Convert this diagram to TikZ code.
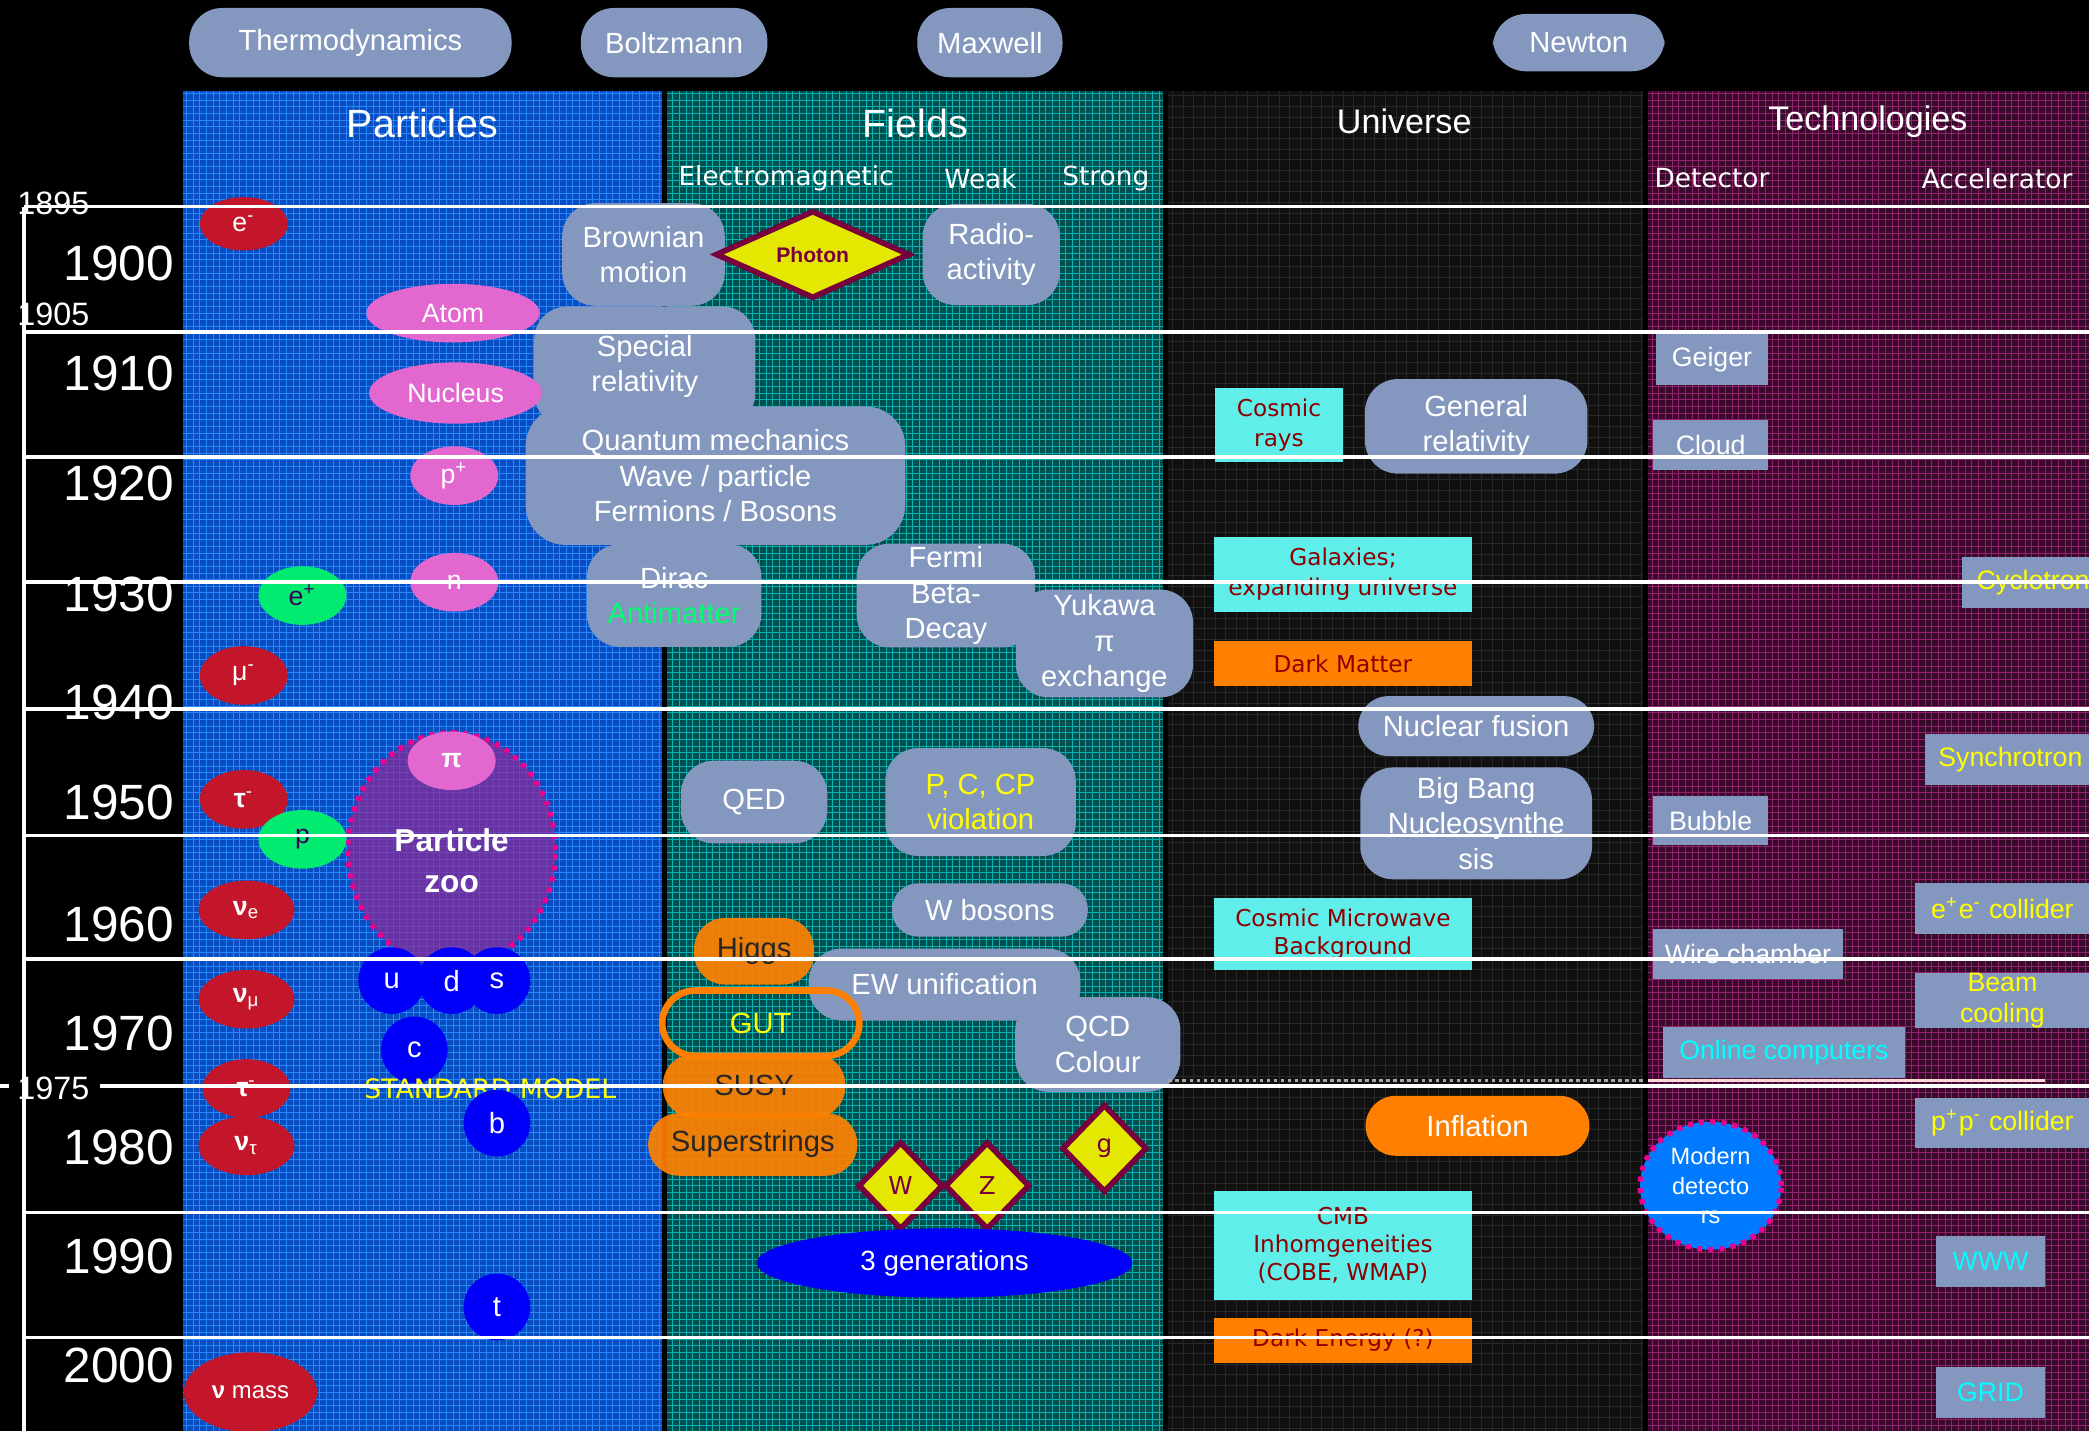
\documentclass[tikz,border=0pt]{standalone}
\usepackage{fontspec}
\setmainfont{Liberation Sans}
\newfontfamily\dejavu{DejaVu Sans}
\usepackage{tikz}
\usetikzlibrary{shapes.geometric}

\definecolor{pillblue}{RGB}{132,151,191}
\definecolor{partblue}{RGB}{8,78,192}
\definecolor{partgrid}{RGB}{40,135,255}
\definecolor{fieldteal}{RGB}{0,80,80}
\definecolor{fieldgrid}{RGB}{10,175,175}
\definecolor{unidark}{RGB}{16,16,16}
\definecolor{unigrid}{RGB}{40,40,40}
\definecolor{techplum}{RGB}{58,10,44}
\definecolor{techgrid}{RGB}{145,35,108}
\definecolor{partred}{RGB}{196,22,42}
\definecolor{partpink}{RGB}{226,104,208}
\definecolor{partgreen}{RGB}{0,235,112}
\definecolor{antitext}{RGB}{60,0,90}
\definecolor{quarkblue}{RGB}{0,0,250}
\definecolor{boxorange}{RGB}{255,128,0}
\definecolor{boxcyan}{RGB}{96,238,234}
\definecolor{darkred}{RGB}{140,0,0}
\definecolor{gaugemaroon}{RGB}{120,0,60}
\definecolor{gaugeyellow}{RGB}{228,232,0}
\definecolor{zoopurple}{RGB}{140,40,150}
\definecolor{detblue}{RGB}{0,122,255}
\definecolor{antigreen}{RGB}{0,255,110}
\definecolor{accyellow}{RGB}{255,255,0}
\definecolor{compcyan}{RGB}{0,255,255}

\begin{document}
\begin{tikzpicture}[x=0.013323cm, y=0.013323cm, yscale=-1,
  sz/.style 2 args={minimum width=#1*0.013323cm, minimum height=#2*0.013323cm},
  txt/.style={font=\fontsize{8.3}{10.1}\selectfont},
  headpill/.style={fill=pillblue, text=white, rounded corners=0.33cm, inner sep=0pt, txt},
  pill/.style={fill=pillblue, text=white, rounded corners=0.33cm, inner sep=0pt, align=center, txt},
  orpill/.style={fill=boxorange, fill opacity=0.92, text opacity=1, text=black!85, rounded corners=0.31cm, inner sep=0pt, txt},
  coltitle/.style={text=white, font=\fontsize{11.2}{13}\selectfont},
  subtitle/.style={text=white, font=\dejavu\fontsize{7.5}{9}\selectfont},
  unibox/.style={fill=boxcyan, text=darkred, inner sep=0pt, align=center, font=\dejavu\fontsize{6.6}{8.4}\selectfont},
  darkbox/.style={fill=boxorange, text=darkred, inner sep=0pt, font=\dejavu\fontsize{6.6}{8.4}\selectfont},
  techbox/.style={fill=pillblue, text=white, inner sep=0pt, align=center, font=\fontsize{7.6}{8.7}\selectfont},
  ptcl/.style={ellipse, inner sep=0pt, text=white, font=\fontsize{7.6}{9}\selectfont},
  quark/.style={circle, fill=quarkblue, text=white, inner sep=0pt, minimum size=50*0.013323cm, font=\fontsize{8.3}{10}\selectfont},
  gauge/.style={diamond, fill=gaugeyellow, draw=gaugemaroon, line width=1.6pt, inner sep=0pt, text=gaugemaroon, font=\dejavu\fontsize{7}{8}\selectfont},
  bigyear/.style={text=white, anchor=east, inner sep=0pt, font=\fontsize{14.1}{16}\selectfont},
  smallyear/.style={text=white, inner sep=0pt, font=\fontsize{9.2}{11}\selectfont},
  yearline/.style={white, line width=1pt},
]
\useasboundingbox (0,0) rectangle (1568,1074);
\fill[black] (0,0) rectangle (1568,1074);
\clip (0,0) rectangle (1568,1074);

% columns
\fill[partblue] (137,68) rectangle (497,1074);
\draw[partgrid, line width=0.22pt] (137,68) grid[step=5] (497,1074);
\fill[fieldteal] (501,68) rectangle (873,1074);
\draw[fieldgrid, line width=0.2pt] (501,68) grid[step=5] (873,1074);
\fill[unidark] (877,68) rectangle (1233,1074);
\draw[unigrid, line width=0.25pt] (877,68) grid[step=8] (1233,1074);
\fill[techplum] (1237,68) rectangle (1568,1074);
\draw[techgrid, line width=0.2pt] (1237,68) grid[step=5] (1568,1074);

% founders
\node[headpill, sz={242}{52}] (thermo) at (263,32) {Thermodynamics};
\node[headpill, sz={140}{52}] (boltz) at (506,32) {Boltzmann};
\node[headpill, sz={109}{52}] (maxw) at (743,32) {Maxwell};
\node[headpill, sz={129}{43}] (newton) at (1185,32) {Newton};

% column titles
\node[coltitle] (particles) at (317,93) {Particles};
\node[coltitle] (fields) at (687,93) {Fields};
\node[coltitle, font=\fontsize{9.7}{11}\selectfont] (universe) at (1054,91) {Universe};
\node[coltitle, font=\fontsize{9.7}{11}\selectfont] (techs) at (1402,91) {Technologies};
\node[subtitle] (em) at (590,134) {Electromagnetic};
\node[subtitle] (weak) at (736,134) {Weak};
\node[subtitle] (strong) at (830,134) {Strong};
\node[subtitle] (detector) at (1285,134) {Detector};
\node[subtitle] (accel) at (1499,134) {Accelerator};

% years
\foreach \yr/\yy in {1900/198,1910/280,1920/363,1930/446,1940/527,1950/602,1960/694,1970/776,1980/861,1990/943,2000/1025}
  \node[bigyear] (yr\yr) at (131,\yy) {\yr};
\node[smallyear] (yr1895) at (40,153) {1895};
\node[smallyear] (yr1905) at (40,236) {1905};
\node[smallyear] (yr1975) at (40,817) {1975};

% fields
\node[pill, sz={122}{77}] (brownian) at (483,191) {Brownian\\motion};
\node[gauge, aspect=2, sz={146}{66}, font=\bfseries\fontsize{6}{7}\selectfont] (photon) at (610,191) {Photon};
\node[pill, sz={103}{76}] (radio) at (744,191) {Radio-\\activity};
\node[pill, sz={166}{90}] (specrel) at (484,275) {Special\\relativity};
\node[pill, sz={285}{104}, rounded corners=0.4cm] (qm) at (537,357) {Quantum mechanics\\Wave / particle\\Fermions / Bosons};
\node[pill, sz={131}{77}] (dirac) at (506,447) {Dirac\\\textcolor{antigreen}{Antimatter}};
\node[pill, sz={134}{78}] (fermi) at (710,447) {Fermi\\Beta-\\Decay};
\node[pill, sz={133}{81}] (yukawa) at (829,483) {Yukawa\\π\\exchange};
\node[pill, sz={110}{62}] (qed) at (566,602) {QED};
\node[pill, sz={143}{81}, text=accyellow] (pccp) at (736,602) {P, C, CP\\violation};
\node[pill, sz={147}{40}, rounded corners=0.26cm] (wbos) at (743,683) {W bosons};
\node[orpill, sz={90}{50}] (higgs) at (566,714) {Higgs};
\node[pill, sz={204}{54}] (ewu) at (709,739) {EW unification};
\node[draw=boxorange, line width=1.9pt, rounded corners=0.33cm, sz={148}{49}, inner sep=0pt, text=accyellow, txt] (gut) at (571,768) {GUT};
\node[orpill, sz={137}{48}] (susy) at (566,815) {SUSY};
\node[orpill, sz={157}{47}] (superstr) at (565,859) {Superstrings};
\node[pill, sz={124}{71}] (qcd) at (824,784) {QCD\\Colour};
\node[gauge, sz={64}{66}] (wgauge) at (676,890) {W};
\node[gauge, sz={64}{66}] (zgauge) at (741,890) {Z};
\node[gauge, sz={64}{66}] (gluon) at (829,862) {g};
\node[ellipse, fill=quarkblue, text=white, sz={282}{52}, inner sep=0pt, font=\fontsize{7.9}{9}\selectfont] (threegen) at (709,948) {3 generations};

% particles
\node[ptcl, fill=partred, sz={66}{40}] (elec) at (183,168) {e\textsuperscript{-}};
\node[ptcl, fill=partpink, sz={130}{44}] (atom) at (340,235) {Atom};
\node[ptcl, fill=partpink, sz={130}{46}] (nucleus) at (342,295) {Nucleus};
\node[ptcl, fill=partpink, sz={66}{44}] (proton) at (341,357) {p\textsuperscript{+}};
\node[ptcl, fill=partpink, sz={66}{44}] (neutron) at (341,437) {n};
\node[ptcl, fill=partgreen, sz={66}{44}, text=antitext] (positron) at (227,447) {e\textsuperscript{+}};
\node[ptcl, fill=partred, sz={66}{44}] (muon) at (183,507) {μ\textsuperscript{-}};
\node[ellipse, draw=magenta, fill=zoopurple, fill opacity=0.72, line width=1.5pt, dash pattern=on 1.4pt off 1.8pt, sz={156}{176}, inner sep=0pt] (zoo) at (339,638) {};
\node[text=white, align=center, font=\bfseries\fontsize{9}{11.4}\selectfont] (zootext) at (339,646) {Particle\\zoo};
\node[ptcl, fill=partpink, sz={66}{44}] (pion) at (339,571) {\textbf{π}};
\node[ptcl, fill=partred, sz={66}{44}] (tau) at (183,600) {\textbf{τ}\textsuperscript{-}};
\node[ptcl, fill=partgreen, sz={66}{44}, text=antitext] (pbar) at (227,630) {p};
\node[ptcl, fill=partred, sz={72}{44}] (nue) at (185,683) {\textbf{ν}\textsubscript{e}};
\node[quark] (qu) at (294,736) {u};
\node[quark] (qd) at (339,736) {d};
\node[quark] (qs) at (373,736) {s};
\node[ptcl, fill=partred, sz={72}{44}] (numu) at (185,750) {\textbf{ν}\textsubscript{μ}};
\node[quark] (qc) at (311,788) {c};
\node[ptcl, fill=partred, sz={66}{44}] (taub) at (185,817) {\textbf{τ}\textsuperscript{-}};
\node[text=accyellow, font=\dejavu\fontsize{7.6}{9}\selectfont] (stdmodel) at (368,817) {STANDARD MODEL};
\node[quark] (qb) at (373,843) {b};
\node[ptcl, fill=partred, sz={72}{44}] (nutau) at (185,860) {\textbf{ν}\textsubscript{τ}};
\node[quark] (qt) at (373,981) {t};
\node[ptcl, fill=partred, sz={100}{60}, font=\fontsize{6.8}{8}\selectfont] (numass) at (188,1045) {\textbf{ν} mass};

% universe
\node[unibox, sz={96}{56}] (cosmic) at (960,319) {Cosmic\\rays};
\node[pill, sz={167}{71}] (genrel) at (1108,320) {General\\relativity};
\node[unibox, sz={193}{56}] (galaxies) at (1008,431) {Galaxies;\\expanding universe};
\node[darkbox, sz={193}{34}] (darkmatter) at (1008,498) {Dark Matter};
\node[pill, sz={177}{45}, rounded corners=0.3cm] (fusion) at (1108,545) {Nuclear fusion};
\node[pill, sz={174}{84}] (bbn) at (1108,618) {Big Bang\\Nucleosynthe\\sis};
\node[unibox, sz={193}{54}, font=\dejavu\fontsize{6.6}{7.9}\selectfont] (cmbr) at (1008,701) {Cosmic Microwave\\Background};
\node[orpill, sz={168}{45}, text=white, fill opacity=1, rounded corners=0.3cm] (inflation) at (1109,845) {Inflation};
\node[unibox, sz={193}{82}, font=\dejavu\fontsize{6.6}{8}\selectfont] (cmbinh) at (1008,935) {CMB\\Inhomgeneities\\(COBE, WMAP)};
\node[darkbox, sz={193}{34}] (darkenergy) at (1008,1006) {Dark Energy (?)};

% technologies
\node[techbox, sz={84}{38}] (geiger) at (1285,270) {Geiger};
\node[techbox, sz={86}{37}] (cloud) at (1284,334) {Cloud};
\node[techbox, sz={107}{38}, text=accyellow] (cyclotron) at (1526,437) {Cyclotron};
\node[techbox, sz={128}{38}, text=accyellow] (synchro) at (1509,570) {Synchrotron};
\node[techbox, sz={86}{37}] (bubble) at (1284,616) {Bubble};
\node[techbox, sz={132}{38}, text=accyellow] (eecoll) at (1503,682) {e\textsuperscript{+}e\textsuperscript{-} collider};
\node[techbox, sz={142}{38}] (wirech) at (1312,716) {Wire chamber};
\node[techbox, sz={132}{37}, text=accyellow] (beamcool) at (1503,751) {Beam\\cooling};
\node[techbox, sz={181}{38}, text=compcyan] (online) at (1339,790) {Online computers};
\node[techbox, sz={132}{38}, text=accyellow] (ppcoll) at (1503,843) {p\textsuperscript{+}p\textsuperscript{-} collider};
\node[ellipse, draw=magenta, fill=detblue, line width=1.5pt, dash pattern=on 1.4pt off 1.8pt, sz={106}{96}, inner sep=0pt, text=white, align=center, font=\fontsize{6.7}{8.3}\selectfont] (moddet) at (1284,890) {Modern\\detecto\\rs};
\node[techbox, sz={82}{38}, text=compcyan] (www) at (1494,947) {WWW};
\node[techbox, sz={82}{38}, text=compcyan] (gridcomp) at (1494,1045) {GRID};

% decade lines
\foreach \ly in {155,249,343,437,532,627,720,910,1004}
  \draw[yearline] (18,\ly) -- (1568,\ly);
\draw[yearline] (75,815) -- (1568,815);
\draw[yearline] (0,815) -- (7,815);
\draw[yearline] (18,155) -- (18,1074);
\draw[gray!70, line width=1pt, densely dotted] (877,811) -- (1233,811);
\draw[pink!60, line width=1pt] (1237,811) -- (1535,811);
\end{tikzpicture}
\end{document}
